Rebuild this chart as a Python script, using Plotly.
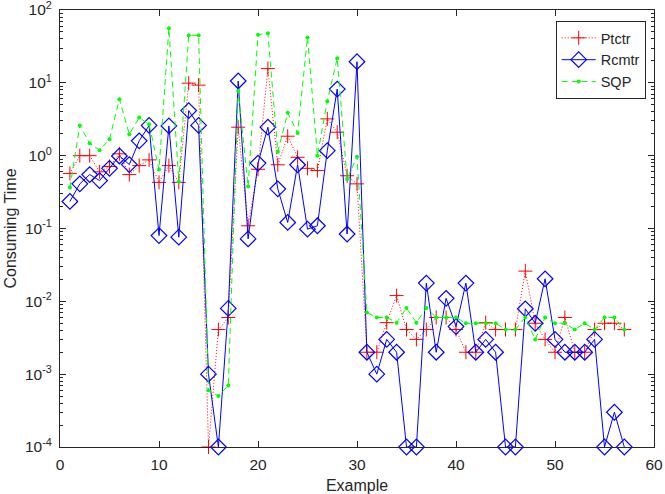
import plotly.graph_objects as go

example = list(range(1, 58))

ptctr = [0.57, 1.0, 1.0, 0.6, 0.71, 1.06, 0.55, 0.73, 0.875, 0.43,
         0.73, 0.43, 9.9, 9.3, 1e-4, 0.0041, 0.006, 2.46, 0.109, 0.65,
         15.7, 0.75, 1.85, 0.95, 0.67, 0.625, 3.2, 2.1, 0.53, 0.41,
         0.002, 0.002, 0.0051, 0.012, 0.0041, 0.003, 0.0041, 0.006, 0.006, 0.0041,
         0.002, 0.002, 0.0051, 0.0041, 0.0041, 0.0041, 0.026, 0.005, 0.003, 0.002,
         0.006, 0.002, 0.002, 0.0041, 0.005, 0.005, 0.0041]

rcmtr = [0.235, 0.41, 0.55, 0.455, 0.67, 0.99, 0.755, 1.6, 2.6, 0.08,
         2.56, 0.076, 4.16, 2.6, 0.001, 1e-4, 0.008, 10.6, 0.072, 0.79,
         2.46, 0.35, 0.121, 0.75, 0.098, 0.109, 1.17, 8.2, 0.084, 19.5,
         0.002, 0.001, 0.003, 0.002, 1e-4, 1e-4, 0.0178, 0.002, 0.011, 0.0045,
         0.0178, 0.002, 0.003, 0.002, 1e-4, 1e-4, 0.0079, 0.005, 0.0204, 0.003,
         0.002, 0.002, 0.002, 0.003, 1e-4, 0.0003, 1e-4]

sqp = [0.365, 2.6, 1.48, 1.19, 1.68, 5.96, 1.97, 3.33, 2.7, 0.645,
       56, 0.44, 45, 45, 0.0006, 0.0005, 0.0007, 7.8, 0.377, 45.9,
       47.9, 1.13, 3.87, 2.05, 42, 1.0, 5.6, 21.7, 0.48, 0.97,
       0.007, 0.006, 0.006, 0.0051, 0.0081, 0.0051, 0.0081, 0.006, 0.006, 0.006,
       0.005, 0.005, 0.005, 0.005, 0.0041, 0.0041, 0.006, 0.003, 0.006, 0.005,
       0.005, 0.0041, 0.005, 0.0041, 0.006, 0.006, 0.0041]

y_ticks = [10 ** e for e in range(-4, 3)]
y_labels = ['10<sup>%d</sup>' % e for e in range(-4, 3)]
y_minor = [m * 10 ** e for e in range(-4, 2) for m in range(2, 10)]

fig = go.Figure()

fig.add_trace(go.Scatter(
    x=example, y=ptctr, name='Ptctr', mode='lines+markers',
    line=dict(color='#FF0000', width=1, dash='1px,2px'),
    marker=dict(symbol='cross-thin-open', size=10, line=dict(color='#FF0000', width=1)),
    cliponaxis=False,
))
fig.add_trace(go.Scatter(
    x=example, y=rcmtr, name='Rcmtr', mode='lines+markers',
    line=dict(color='#0000FF', width=1),
    marker=dict(symbol='diamond-open', size=12, color='#0000FF', line=dict(width=1.2)),
    cliponaxis=False,
))
fig.add_trace(go.Scatter(
    x=example, y=sqp, name='SQP', mode='lines+markers',
    line=dict(color='#00FF00', width=1, dash='6px,4px'),
    marker=dict(symbol='circle', size=4, color='#00FF00'),
    cliponaxis=False,
))

axis_col = '#262626'
fig.update_layout(
    width=665, height=494,
    margin=dict(l=60, r=11, t=10, b=47),
    paper_bgcolor='white', plot_bgcolor='white',
    font=dict(family='Liberation Sans, Arial, sans-serif', size=15.5, color=axis_col),
    showlegend=True,
    legend=dict(x=0.986, y=0.975, xanchor='right', yanchor='top',
                bordercolor=axis_col, borderwidth=1, bgcolor='white',
                font=dict(size=14.5), tracegroupgap=0, itemwidth=34),
    xaxis=dict(
        range=[0, 60], dtick=10, tick0=0, automargin=False,
        showline=True, linecolor=axis_col, linewidth=1, mirror='ticks',
        ticks='inside', ticklen=6, tickcolor=axis_col, ticklabelstandoff=3,
        ticklabeloverflow='allow',
        showgrid=False, zeroline=False,
        title=dict(text='Example', standoff=9, font=dict(size=16)),
    ),
    yaxis=dict(
        type='log', range=[-4, 2], automargin=False,
        tickmode='array', tickvals=y_ticks, ticktext=y_labels,
        showline=True, linecolor=axis_col, linewidth=1, mirror='ticks',
        ticks='inside', ticklen=6, tickcolor=axis_col, ticklabelstandoff=4,
        ticklabeloverflow='allow',
        minor=dict(tickmode='array', tickvals=y_minor, ticks='inside',
                   ticklen=3, tickcolor=axis_col, showgrid=False),
        showgrid=False, zeroline=False,
        title=dict(text='Consuming Time', standoff=4, font=dict(size=16)),
    ),
)

fig.write_html('out.html', config={'displayModeBar': False},
               post_script="document.body.style.margin='0';")
